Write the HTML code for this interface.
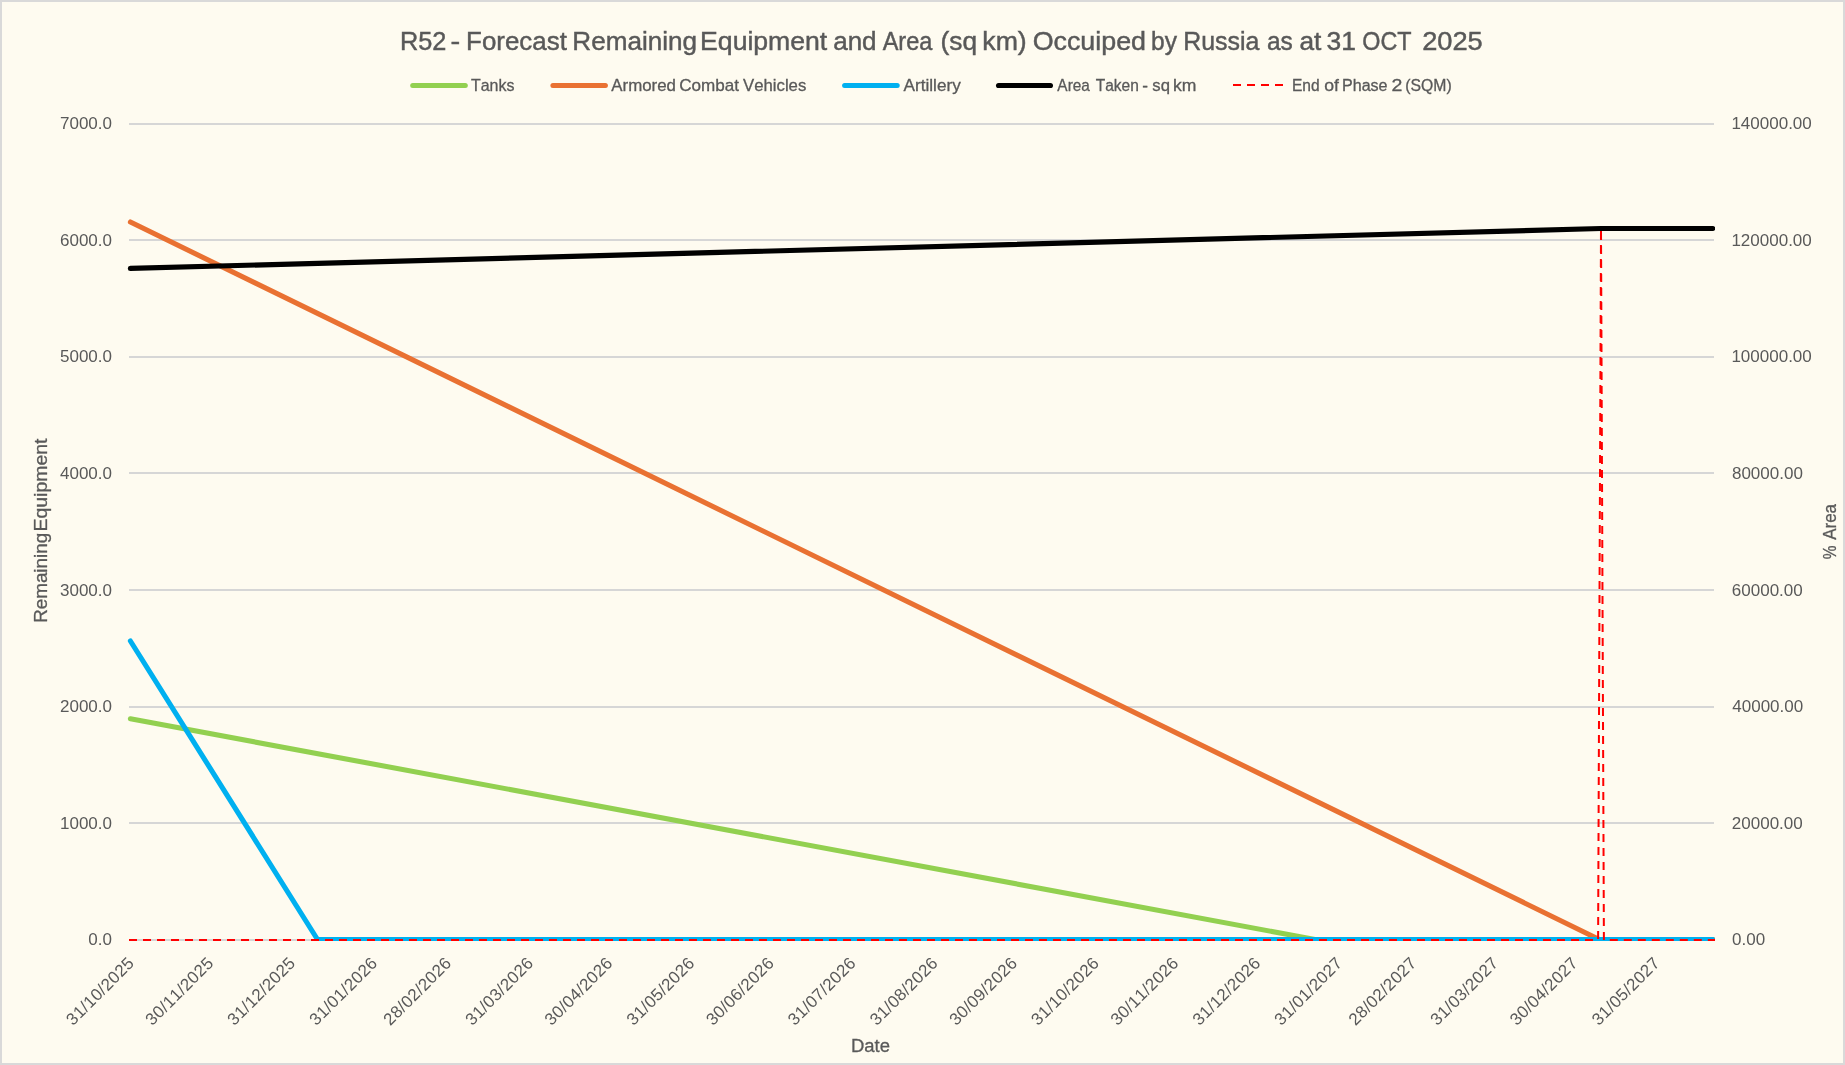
<!DOCTYPE html>
<html><head><meta charset="utf-8"><title>R52 Forecast</title>
<style>
html,body{margin:0;padding:0;background:#FEFBF0;}
body{width:1845px;height:1065px;overflow:hidden;}
svg{display:block;will-change:transform;font-family:"Liberation Sans",sans-serif;font-kerning:none;}
text{fill:#595959;}
</style></head><body>
<svg width="1845" height="1065" viewBox="0 0 1845 1065">
<rect x="0" y="0" width="1845" height="1065" fill="#FEFBF0"/>

<rect x="129.0" y="123" width="1585.0" height="2" fill="#D6D6D6"/>
<rect x="129.0" y="239" width="1585.0" height="2" fill="#D6D6D6"/>
<rect x="129.0" y="356" width="1585.0" height="2" fill="#D6D6D6"/>
<rect x="129.0" y="472" width="1585.0" height="2" fill="#D6D6D6"/>
<rect x="129.0" y="589" width="1585.0" height="2" fill="#D6D6D6"/>
<rect x="129.0" y="706" width="1585.0" height="2" fill="#D6D6D6"/>
<rect x="129.0" y="822" width="1585.0" height="2" fill="#D6D6D6"/>
<rect x="129.0" y="939" width="1585.0" height="2" fill="#D6D6D6"/>
<text transform="translate(399.92,49.8) scale(0.9853,1)" font-size="25.7" stroke="#595959" stroke-width="0.45">R52</text>
<text transform="translate(450.61,49.8) scale(1.1316,1)" font-size="25.7" stroke="#595959" stroke-width="0.45">-</text>
<text transform="translate(466.07,49.8) scale(1.0084,1)" font-size="25.7" stroke="#595959" stroke-width="0.45">Forecast</text>
<text transform="translate(572.36,49.8) scale(1.0161,1)" font-size="25.7" stroke="#595959" stroke-width="0.45">Remaining</text>
<text transform="translate(700.12,49.8) scale(1.0351,1)" font-size="25.7" stroke="#595959" stroke-width="0.45">Equipment</text>
<text transform="translate(833.20,49.8) scale(1.0117,1)" font-size="25.7" stroke="#595959" stroke-width="0.45">and</text>
<text transform="translate(882.65,49.8) scale(0.9164,1)" font-size="25.7" stroke="#595959" stroke-width="0.45">Area</text>
<text transform="translate(940.57,49.8) scale(1.0227,1)" font-size="25.7" stroke="#595959" stroke-width="0.45">(sq</text>
<text transform="translate(982.30,49.8) scale(1.0382,1)" font-size="25.7" stroke="#595959" stroke-width="0.45">km)</text>
<text transform="translate(1032.63,49.8) scale(1.0454,1)" font-size="25.7" stroke="#595959" stroke-width="0.45">Occuiped</text>
<text transform="translate(1151.12,49.8) scale(0.9553,1)" font-size="25.7" stroke="#595959" stroke-width="0.45">by</text>
<text transform="translate(1183.16,49.8) scale(0.9693,1)" font-size="25.7" stroke="#595959" stroke-width="0.45">Russia</text>
<text transform="translate(1266.96,49.8) scale(0.9513,1)" font-size="25.7" stroke="#595959" stroke-width="0.45">as</text>
<text transform="translate(1299.38,49.8) scale(1.0222,1)" font-size="25.7" stroke="#595959" stroke-width="0.45">at</text>
<text transform="translate(1326.59,49.8) scale(1.0284,1)" font-size="25.7" stroke="#595959" stroke-width="0.45">31</text>
<text transform="translate(1362.29,49.8) scale(0.9096,1)" font-size="25.7" stroke="#595959" stroke-width="0.45">OCT</text>
<text transform="translate(1422.13,49.8) scale(1.0602,1)" font-size="25.7" stroke="#595959" stroke-width="0.45">2025</text>
<text transform="translate(470.94,90.8) scale(0.9869,1)" font-size="16.2" stroke="#595959" stroke-width="0.3">Tanks</text>
<text transform="translate(611.27,90.8) scale(1.0419,1)" font-size="16.2" stroke="#595959" stroke-width="0.3">Armored</text>
<text transform="translate(679.23,90.8) scale(1.0541,1)" font-size="16.2" stroke="#595959" stroke-width="0.3">Combat</text>
<text transform="translate(743.03,90.8) scale(1.0334,1)" font-size="16.2" stroke="#595959" stroke-width="0.3">Vehicles</text>
<text transform="translate(903.57,90.8) scale(1.0586,1)" font-size="16.2" stroke="#595959" stroke-width="0.3">Artillery</text>
<text transform="translate(1057.37,90.8) scale(0.9506,1)" font-size="16.2" stroke="#595959" stroke-width="0.3">Area</text>
<text transform="translate(1095.75,90.8) scale(0.9585,1)" font-size="16.2" stroke="#595959" stroke-width="0.3">Taken</text>
<text transform="translate(1142.24,90.8) scale(1.0619,1)" font-size="16.2" stroke="#595959" stroke-width="0.3">-</text>
<text transform="translate(1152.34,90.8) scale(1.0306,1)" font-size="16.2" stroke="#595959" stroke-width="0.3">sq</text>
<text transform="translate(1173.01,90.8) scale(1.0857,1)" font-size="16.2" stroke="#595959" stroke-width="0.3">km</text>
<text transform="translate(1291.92,90.8) scale(0.9602,1)" font-size="16.2" stroke="#595959" stroke-width="0.3">End</text>
<text transform="translate(1324.26,90.8) scale(1.0892,1)" font-size="16.2" stroke="#595959" stroke-width="0.3">of</text>
<text transform="translate(1341.98,90.8) scale(0.9935,1)" font-size="16.2" stroke="#595959" stroke-width="0.3">Phase</text>
<text transform="translate(1391.42,90.8) scale(1.2059,1)" font-size="16.2" stroke="#595959" stroke-width="0.3">2</text>
<text transform="translate(1405.32,90.8) scale(0.9741,1)" font-size="16.2" stroke="#595959" stroke-width="0.3">(SQM)</text>
<line x1="412.7" y1="85.5" x2="465.3" y2="85.5" stroke="#92D050" stroke-width="5.0" stroke-linecap="round"/>
<line x1="552.9" y1="85.5" x2="605.4" y2="85.5" stroke="#E97132" stroke-width="5.0" stroke-linecap="round"/>
<line x1="844.6" y1="85.5" x2="897.2" y2="85.5" stroke="#00B0F0" stroke-width="5.0" stroke-linecap="round"/>
<line x1="998.6" y1="85.5" x2="1050.4" y2="85.5" stroke="#000000" stroke-width="5.2" stroke-linecap="round"/>
<line x1="1233" y1="85" x2="1283" y2="85" stroke="#FF0000" stroke-width="2" stroke-dasharray="8 6"/>
<text x="59.97" y="129.10" font-size="17">7000.0</text>
<text x="59.97" y="246.10" font-size="17">6000.0</text>
<text x="59.97" y="362.10" font-size="17">5000.0</text>
<text x="59.97" y="479.10" font-size="17">4000.0</text>
<text x="59.97" y="596.10" font-size="17">3000.0</text>
<text x="59.97" y="712.10" font-size="17">2000.0</text>
<text x="59.97" y="829.10" font-size="17">1000.0</text>
<text x="88.33" y="945.10" font-size="17">0.0</text>
<text x="1731.41" y="129.10" font-size="17">140000.00</text>
<text x="1731.41" y="246.10" font-size="17">120000.00</text>
<text x="1731.41" y="362.10" font-size="17">100000.00</text>
<text x="1731.96" y="479.10" font-size="17">80000.00</text>
<text x="1731.84" y="596.10" font-size="17">60000.00</text>
<text x="1732.31" y="712.10" font-size="17">40000.00</text>
<text x="1731.85" y="829.10" font-size="17">20000.00</text>
<text x="1732.04" y="945.10" font-size="17">0.00</text>
<text transform="translate(135.20,964.1) rotate(-45)" text-anchor="end" letter-spacing="0.28" font-size="17">31/10/2025</text>
<text transform="translate(214.52,964.1) rotate(-45)" text-anchor="end" letter-spacing="0.28" font-size="17">30/11/2025</text>
<text transform="translate(296.48,964.1) rotate(-45)" text-anchor="end" letter-spacing="0.28" font-size="17">31/12/2025</text>
<text transform="translate(378.45,964.1) rotate(-45)" text-anchor="end" letter-spacing="0.28" font-size="17">31/01/2026</text>
<text transform="translate(452.48,964.1) rotate(-45)" text-anchor="end" letter-spacing="0.28" font-size="17">28/02/2026</text>
<text transform="translate(534.44,964.1) rotate(-45)" text-anchor="end" letter-spacing="0.28" font-size="17">31/03/2026</text>
<text transform="translate(613.76,964.1) rotate(-45)" text-anchor="end" letter-spacing="0.28" font-size="17">30/04/2026</text>
<text transform="translate(695.73,964.1) rotate(-45)" text-anchor="end" letter-spacing="0.28" font-size="17">31/05/2026</text>
<text transform="translate(775.05,964.1) rotate(-45)" text-anchor="end" letter-spacing="0.28" font-size="17">30/06/2026</text>
<text transform="translate(857.01,964.1) rotate(-45)" text-anchor="end" letter-spacing="0.28" font-size="17">31/07/2026</text>
<text transform="translate(938.98,964.1) rotate(-45)" text-anchor="end" letter-spacing="0.28" font-size="17">31/08/2026</text>
<text transform="translate(1018.30,964.1) rotate(-45)" text-anchor="end" letter-spacing="0.28" font-size="17">30/09/2026</text>
<text transform="translate(1100.26,964.1) rotate(-45)" text-anchor="end" letter-spacing="0.28" font-size="17">31/10/2026</text>
<text transform="translate(1179.58,964.1) rotate(-45)" text-anchor="end" letter-spacing="0.28" font-size="17">30/11/2026</text>
<text transform="translate(1261.54,964.1) rotate(-45)" text-anchor="end" letter-spacing="0.28" font-size="17">31/12/2026</text>
<text transform="translate(1343.51,964.1) rotate(-45)" text-anchor="end" letter-spacing="0.28" font-size="17">31/01/2027</text>
<text transform="translate(1417.54,964.1) rotate(-45)" text-anchor="end" letter-spacing="0.28" font-size="17">28/02/2027</text>
<text transform="translate(1499.50,964.1) rotate(-45)" text-anchor="end" letter-spacing="0.28" font-size="17">31/03/2027</text>
<text transform="translate(1578.82,964.1) rotate(-45)" text-anchor="end" letter-spacing="0.28" font-size="17">30/04/2027</text>
<text transform="translate(1660.79,964.1) rotate(-45)" text-anchor="end" letter-spacing="0.28" font-size="17">31/05/2027</text>
<text transform="translate(850.98,1051.9) scale(0.9727,1)" font-size="19" stroke="#595959" stroke-width="0.3">Date</text>
<text transform="translate(47.3,622.85) rotate(-90) scale(0.9916,1)" font-size="19" stroke="#595959" stroke-width="0.3">Remaining</text>
<text transform="translate(47.3,531.60) rotate(-90) scale(1.0254,1)" font-size="19" stroke="#595959" stroke-width="0.3">Equipment</text>
<text transform="translate(1836.0,559.25) rotate(-90) scale(0.8173,1)" font-size="19" stroke="#595959" stroke-width="0.3">%</text>
<text transform="translate(1836.0,539.83) rotate(-90) scale(0.8953,1)" font-size="19" stroke="#595959" stroke-width="0.3">Area</text>
<clipPath id="pc"><rect x="126" y="120" width="1589" height="821"/></clipPath>
<g clip-path="url(#pc)" fill="none" stroke-linecap="round" stroke-linejoin="round">
<polyline points="130.4,718.8 1315,939.5 1712.6,939.5" stroke="#92D050" stroke-width="5.1"/>
<polyline points="130.4,222 1599.3,939.5 1712.6,939.5" stroke="#E97132" stroke-width="5.1"/>
<polyline points="130.4,641 317.5,939.5 1712.6,939.5" stroke="#00B0F0" stroke-width="5.1"/>
<polyline points="130.4,268.4 1601,228.5 1712.6,228.5" stroke="#000000" stroke-width="5.2"/>
<polyline points="129,940.0 1598.1,940.0 1601,228.5 1603.9,940.0 1715,940.0" stroke="#FF0000" stroke-width="2" stroke-dasharray="8 6" stroke-linecap="butt" stroke-linejoin="miter"/>
</g>
<rect x="1" y="1" width="1843" height="1063" fill="none" stroke="#D9D9D9" stroke-width="2"/>
</svg></body></html>
